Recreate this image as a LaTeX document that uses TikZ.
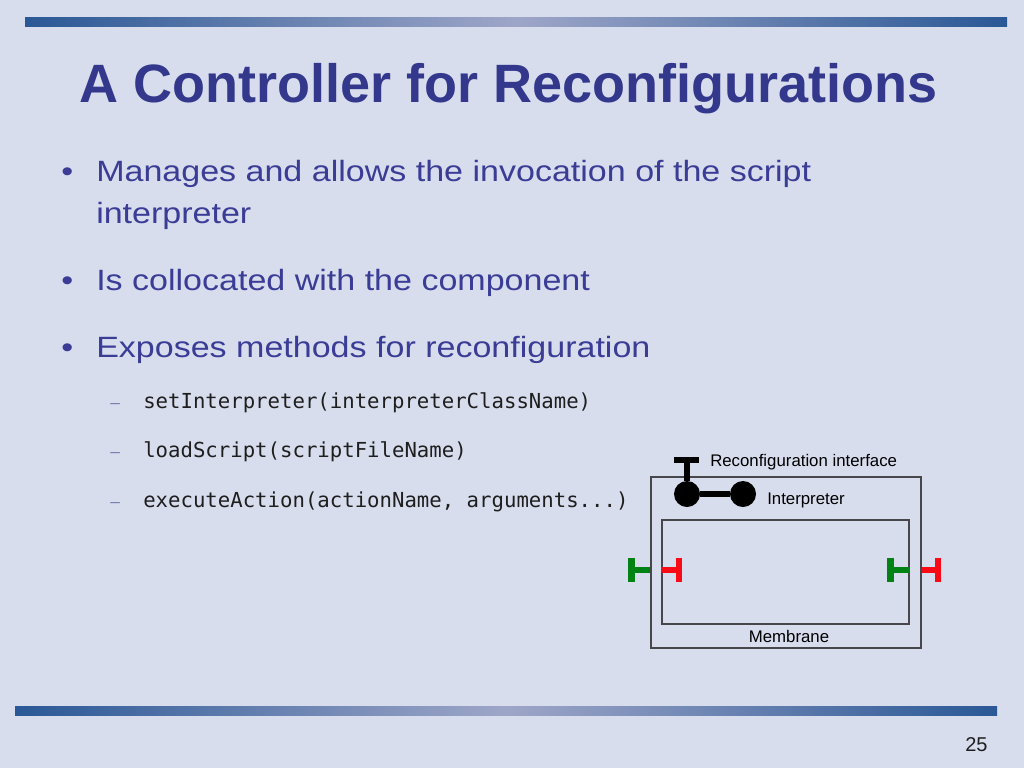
\documentclass[tikz,border=0pt]{standalone}
\usepackage{fontspec}
\setmainfont{Liberation Sans}
\newfontfamily\bodyfont[FakeStretch=1.16]{Liberation Sans}
\newfontfamily\codefont{DejaVu Sans Mono}
\usetikzlibrary{positioning}

\definecolor{slidebg}{RGB}{215,221,237}
\definecolor{bardark}{RGB}{42,88,150}
\definecolor{barlight}{RGB}{158,166,200}
\definecolor{titleblue}{RGB}{52,56,140}
\definecolor{textblue}{RGB}{58,60,150}
\definecolor{dashblue}{RGB}{120,126,176}
\definecolor{codegray}{RGB}{30,30,30}
\definecolor{boxgray}{RGB}{70,70,75}
\definecolor{portgreen}{RGB}{0,130,20}
\definecolor{portred}{RGB}{250,10,20}

\begin{document}
\begin{tikzpicture}[x=0.75pt,y=-0.75pt,
    every node/.style={inner sep=0pt,anchor=base west},
    bullet text/.style={font=\bodyfont\fontsize{22pt}{26pt}\selectfont,text=textblue},
    code text/.style={font=\codefont\fontsize{15.5pt}{18pt}\selectfont,text=codegray},
    label text/.style={font=\fontsize{12.6pt}{15pt}\selectfont,text=black},
    box/.style={draw=boxgray,line width=1pt,anchor=center},
    port/.style={line width=5pt},
    ball/.style={circle,fill=black,minimum size=19.5pt,anchor=center}]

  % slide background and bars
  \fill[slidebg] (0,0) rectangle (1024,768);
  \shade[left color=bardark,right color=bardark,middle color=barlight] (25,17) rectangle (1007,26);
  \shade[left color=bardark,right color=bardark,middle color=barlight] (15,706) rectangle (997,715);

  \node[font=\bfseries\fontsize{40.5pt}{44pt}\selectfont,text=titleblue] (title) at (79,102) {A Controller for Reconfigurations};

  % bullets
  \node[bullet text] (b1) at (61,181) {\textbullet};
  \node[bullet text] (t1) at (96,181) {Manages and allows the invocation of the script};
  \node[bullet text] (t1b) at (96,223) {interpreter};
  \node[bullet text] (b2) at (61,290) {\textbullet};
  \node[bullet text] (t2) at (96,290) {Is collocated with the component};
  \node[bullet text] (b3) at (61,357) {\textbullet};
  \node[bullet text] (t3) at (96,357) {Exposes methods for reconfiguration};

  \node[bullet text,text=dashblue,font=\fontsize{13pt}{15pt}\selectfont] (d1) at (110,408) {--};
  \node[code text] (c1) at (143,408) {setInterpreter(interpreterClassName)};
  \node[bullet text,text=dashblue,font=\fontsize{13pt}{15pt}\selectfont] (d2) at (110,457) {--};
  \node[code text] (c2) at (143,457) {loadScript(scriptFileName)};
  \node[bullet text,text=dashblue,font=\fontsize{13pt}{15pt}\selectfont] (d3) at (110,507) {--};
  \node[code text] (c3) at (143,507) {executeAction(actionName, arguments...)};

  % component with membrane
  \node[box,minimum width=202.5pt,minimum height=128.25pt] (membrane) at (786,562.5) {};
  \node[box,minimum width=185.25pt,minimum height=78pt] (content) at (785.5,572) {};
  \node[label text,anchor=base] (memlabel) at (789,642) {Membrane};

  % interpreter and reconfiguration interface
  \node[ball] (ctl) at (687,494) {};
  \node[ball] (interp) at (743,494) {};
  \coordinate (reconf) at (687,460);
  \draw[line width=3.8pt] (ctl) -- (interp);
  \draw[line width=4.5pt] (reconf) -- (ctl);
  \draw[line width=4.5pt] (674,460) -- (699,460);
  \node[label text] (reconflabel) at (710,466) {Reconfiguration interface};
  \node[label text] (interplabel) at (767,504) {Interpreter};

  % ports
  \coordinate (gleft) at (631.5,570);
  \coordinate (rleft) at (679,570);
  \coordinate (gright) at (890.5,570);
  \coordinate (rright) at (938,570);
  \draw[port,portgreen] (gleft) -- (gleft -| membrane.west);
  \draw[port,portgreen] (631.5,557.5) -- (631.5,581.5);
  \draw[port,portred] (content.west |- rleft) -- (rleft);
  \draw[port,portred] (679,557.5) -- (679,581.5);
  \draw[port,portgreen] (gright) -- (gright -| content.east);
  \draw[port,portgreen] (890.5,557.5) -- (890.5,581.5);
  \draw[port,portred] (membrane.east |- rright) -- (rright);
  \draw[port,portred] (938,557.5) -- (938,581.5);

  \node[font=\fontsize{15pt}{18pt}\selectfont,text=codegray] (pagenum) at (965,751) {25};
\end{tikzpicture}
\end{document}
